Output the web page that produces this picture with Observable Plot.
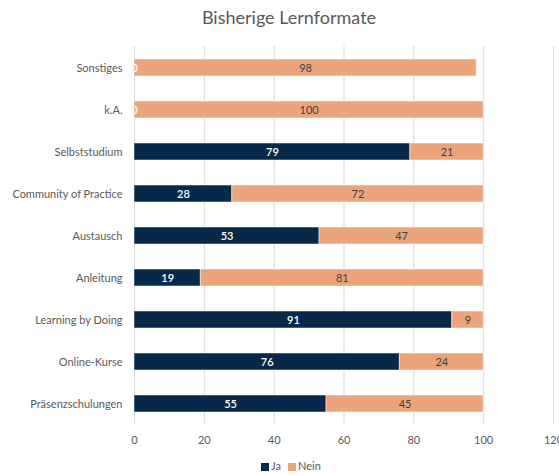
<!DOCTYPE html>
<html><head><meta charset="utf-8">
<script src="https://cdn.jsdelivr.net/npm/d3@7"></script>
<script src="https://cdn.jsdelivr.net/npm/@observablehq/plot@0.6"></script>
<style>
body{margin:0;background:#fff;font-family:Lato,"Open Sans",sans-serif;}
#wrap{position:relative;width:559px;height:476px;}
#title{height:34px;line-height:34px;text-align:center;padding-left:19px;box-sizing:border-box;font-size:18px;color:#595959;}
#legend{position:relative;height:20px;font-size:11px;color:#595959;}
.sw{position:absolute;top:7px;width:8px;height:8px;}
.lb{position:absolute;top:3px;}
</style></head><body>
<div id="wrap">
<div id="title">Bisherige Lernformate</div>
<div id="chart"></div>
<div id="legend"></div>
</div>
<script>
const categories = ["Sonstiges","k.A.","Selbststudium","Community of Practice","Austausch","Anleitung","Learning by Doing","Online-Kurse","Präsenzschulungen"];
const ja   = [0, 0, 79, 28, 53, 19, 91, 76, 55];
const nein = [98, 100, 21, 72, 47, 81, 9, 24, 45];
const seriesNames = ["Ja","Nein"];
const seriesColors = ["#06294a","#eca57b"];
const xTicks = [0,20,40,60,80,100,120];

const rows = [];
categories.forEach((c,i)=>{
  rows.push({cat:c, series:"Ja", value:ja[i], x1:0, x2:ja[i]});
  rows.push({cat:c, series:"Nein", value:nein[i], x1:ja[i], x2:ja[i]+nein[i]});
});
rows.forEach(r=>r.mid=(r.x1+r.x2)/2);

const chart = Plot.plot({
  width:559, height:422,
  marginTop:12, marginBottom:32, marginLeft:134, marginRight:6,
  style:{fontFamily:"Lato, 'Open Sans', sans-serif", fontSize:"11px", color:"#595959", background:"white"},
  x:{domain:[0,120], ticks:xTicks, label:null},
  y:{domain:categories, paddingInner:0.6, paddingOuter:0.3, label:null},
  color:{domain:seriesNames, range:seriesColors},
  marks:[
    Plot.gridX(xTicks,{stroke:"#d9d9d9", strokeOpacity:1, strokeWidth:1}),
    Plot.axisX({ticks:xTicks, tickSize:0, tickPadding:12, fontSize:11, label:null}),
    Plot.axisY({tickSize:0, tickPadding:12, fontSize:11, label:null}),
    Plot.barX(rows.filter(r=>r.value>0),{x1:"x1", x2:"x2", y:"cat", fill:"series", stroke:"#ffffff", strokeOpacity:0.5, strokeWidth:1}),
    Plot.text(rows.filter(r=>r.series==="Ja" && r.value>0),{x:"mid", y:"cat", text:"value", fill:"white", fontSize:11, fontWeight:600}),
    Plot.text(rows.filter(r=>r.series==="Ja" && r.value===0),{x:"mid", y:"cat", text:"value", fill:"white", stroke:"#d0d0d0", strokeWidth:0.6, fontSize:11}),
    Plot.text(rows.filter(r=>r.series==="Nein"),{x:"mid", y:"cat", text:"value", fill:"#404040", fontSize:11})
  ]
});
document.getElementById("chart").appendChild(chart);

const lg = document.getElementById("legend");
const lx = [261, 288];
seriesNames.forEach((s,i)=>{
  const sw = document.createElement("div"); sw.className="sw";
  sw.style.left = lx[i]+"px"; sw.style.background = seriesColors[i];
  const lb = document.createElement("div"); lb.className="lb";
  lb.style.left = (lx[i]+10)+"px"; lb.textContent = s;
  lg.appendChild(sw); lg.appendChild(lb);
});
</script>
</body></html>
